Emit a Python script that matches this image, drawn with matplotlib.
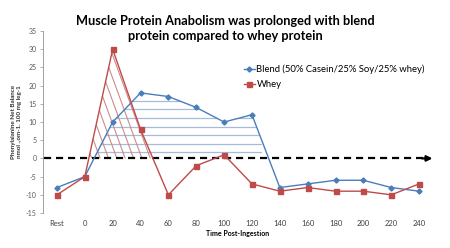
import numpy as np
import matplotlib
matplotlib.use("Agg")
import matplotlib.pyplot as plt
from matplotlib.patches import Polygon

categories = ["Rest", "0", "20", "40", "60", "80", "100", "120", "140", "160", "180", "200", "220", "240"]
blend = [-8, -5, 10, 18, 17, 14, 10, 12, -8, -7, -6, -6, -8, -9]
whey = [-10, -5, 30, 8, -10, -2, 1, -7, -9, -8, -9, -9, -10, -7]
yticks = list(range(-15, 36, 5))

BLUE = "#4A7EBB"
RED = "#BE4B48"
FONT = "Lato"

plt.rcParams["font.family"] = [FONT, "DejaVu Sans"]

fig = plt.figure(figsize=(4.5, 2.48), dpi=100)
ax = fig.add_axes([0.0956, 0.141, 0.8667, 0.734])
x = np.arange(len(categories))


def positive_region(xs, ys, i0, i1, xmax=None):
    """Polygon of the part of the series above 0 between segment i0 and i1."""
    pts = []
    for i in range(i0, i1):
        xa, ya, xb, yb = xs[i], ys[i], xs[i + 1], ys[i + 1]
        if ya >= 0:
            pts.append((xa, ya))
        if (ya < 0) != (yb < 0):
            t = ya / (ya - yb)
            pts.append((xa + t * (xb - xa), 0.0))
    if xmax is not None:
        clipped = []
        for j in range(len(pts)):
            p = pts[j]
            if p[0] <= xmax:
                clipped.append(p)
            if j + 1 < len(pts):
                q = pts[j + 1]
                if (p[0] - xmax) * (q[0] - xmax) < 0:
                    t = (xmax - p[0]) / (q[0] - p[0])
                    clipped.append((xmax, p[1] + t * (q[1] - p[1])))
        clipped.append((xmax, 0.0))
        pts = clipped
    return pts


# Blue horizontal hatching under blend curve
bpoly = Polygon(positive_region(x, blend, 1, 8, xmax=7.36), closed=True,
                facecolor="none", edgecolor="none")
ax.add_patch(bpoly)
for yy in np.arange(1.7, 19, 2.35):
    ln, = ax.plot([0, 9], [yy, yy], color="#A3BCDB", lw=0.9, zorder=1)
    ln.set_clip_path(bpoly)

# Red steep diagonal hatching under whey peak
rpoly = Polygon(positive_region(x, whey, 1, 4), closed=True,
                facecolor="none", edgecolor="none")
ax.add_patch(rpoly)
slope = -21.0  # data units of y per category
for x0 in np.arange(0.95, 4.5, 0.3):
    xs_ = np.array([x0 - 2, x0 + 2])
    ln, = ax.plot(xs_, slope * (xs_ - x0), color="#D08A88", lw=0.8, zorder=1)
    ln.set_clip_path(rpoly)

# Zero reference dashed line with arrow
ax.plot([-0.45, 13.15], [0, 0], color="black", lw=1.6, ls=(0, (3.2, 2.2)), zorder=2)
ax.annotate("", xy=(13.48, 0), xytext=(13.1, 0),
            arrowprops=dict(arrowstyle="-|>", color="black", lw=1.6,
                            mutation_scale=8, shrinkA=0, shrinkB=0), zorder=2)

ax.plot(x, blend, color=BLUE, lw=1.0, marker="D", markersize=2.6,
        label="Blend (50% Casein/25% Soy/25% whey)", zorder=3)
ax.plot(x, whey, color=RED, lw=1.0, marker="s", markersize=3.6, label="Whey", zorder=3)

ax.set_xlim(-0.5, len(categories) - 0.5)
ax.set_ylim(-15, 35)
ax.set_yticks(yticks)
ax.set_yticklabels([str(v) for v in yticks], fontsize=5, color="#595959")
ax.set_xticks(x)
ax.set_xticklabels(categories, fontsize=5.5, color="#404040")
ax.tick_params(axis="x", length=0, pad=5)
ax.tick_params(axis="y", length=2.5, width=0.6, color="#A0A0A0", pad=2)
for s in ["top", "right", "bottom"]:
    ax.spines[s].set_visible(False)
ax.spines["left"].set_color("#A0A0A0")
ax.spines["left"].set_linewidth(0.7)

ax.set_xlabel("Time Post-Ingestion", fontsize=5, fontweight="bold", labelpad=2)
ax.set_ylabel("Phenylalanine Net Balance\nnmol .,om-1. 100 mg leg-1", fontsize=4.5,
              fontweight="bold", color="#333333", labelpad=3, linespacing=1.1)

leg = ax.legend(loc="upper left", bbox_to_anchor=(0.506, 0.835), frameon=False,
                fontsize=6.8, handlelength=1.1, handletextpad=0.2,
                labelspacing=0.6, borderaxespad=0)

fig.text(0.5, 0.885, "Muscle Protein Anabolism was prolonged with blend\nprotein compared to whey protein",
         ha="center", va="center", fontsize=9.2, fontweight="bold", linespacing=1.3)

fig.savefig("out.png", dpi=100)
